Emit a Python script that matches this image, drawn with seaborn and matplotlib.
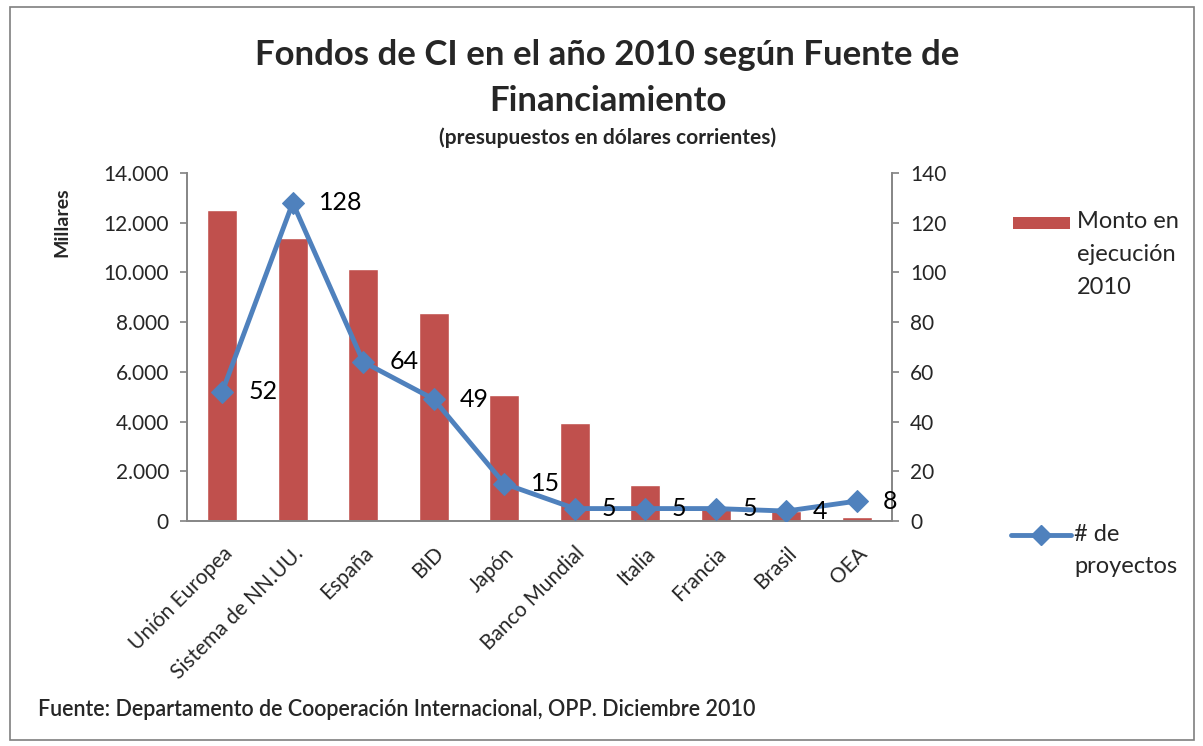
import matplotlib
matplotlib.use("Agg")
import matplotlib.pyplot as plt
import seaborn as sns
import numpy as np
from matplotlib.patches import Rectangle
from matplotlib.lines import Line2D

categorias = ["Unión Europea", "Sistema de NN.UU.", "España", "BID", "Japón",
              "Banco Mundial", "Italia", "Francia", "Brasil", "OEA"]
monto_miles = [12500, 11400, 10150, 8350, 5050, 3950, 1450, 500, 400, 180]
proyectos = [52, 128, 64, 49, 15, 5, 5, 5, 4, 8]
yticks_izq = [0, 2000, 4000, 6000, 8000, 10000, 12000, 14000]
yticks_der = [0, 20, 40, 60, 80, 100, 120, 140]

RED = "#C0504D"
BLUE = "#4F81BD"

sns.set_theme(style="white")
plt.rcParams['font.family'] = ['Lato', 'DejaVu Sans']

fig = plt.figure(figsize=(12.03, 7.46), dpi=100)
W, H = 1203, 746
ax = fig.add_axes([187 / W, 1 - 521 / H, (892 - 187) / W, (521 - 173) / H])

sns.barplot(x=categorias, y=monto_miles, color=RED, width=0.42, saturation=1,
            ax=ax, zorder=2)
ax.set_ylim(0, 14000)
ax.set_yticks(yticks_izq)
ax.set_yticklabels([f"{v:,}".replace(",", ".") for v in yticks_izq], fontsize=15)
ax.set_xlim(-0.5, 9.5)
ax.set_xticks(range(len(categorias)))
ax.set_xticklabels(categorias, rotation=45, ha="right", rotation_mode="anchor", fontsize=15)
ax.set_xlabel("")
ax.set_ylabel("")
for s in ["left", "bottom", "right"]:
    ax.spines[s].set_color("#868686")
ax.spines["top"].set_visible(False)
ax.tick_params(axis="y", length=5, color="#868686", left=True, pad=8)
ax.tick_params(axis="x", length=0, pad=16)

ax2 = ax.twinx()
sns.lineplot(x=list(range(len(categorias))), y=proyectos, color=BLUE, linewidth=3.5,
             marker="D", markersize=11, markeredgecolor=BLUE, ax=ax2, zorder=3)
ax2.set_ylim(0, 140)
ax2.set_yticks(yticks_der)
ax2.set_yticklabels([str(v) for v in yticks_der], fontsize=15)
ax2.set_xlim(-0.5, 9.5)
ax2.spines["top"].set_visible(False)
for s in ["left", "bottom", "right"]:
    ax2.spines[s].set_color("#868686")
ax2.tick_params(axis="y", length=5, color="#868686", right=True, pad=8)
ax2.set_ylabel("")

for i, v in enumerate(proyectos):
    ax2.annotate(str(v), (i, v), xytext=(19, 0), textcoords="offset points",
                 ha="left", va="center", fontsize=18, color="#000000")

fig.text(0.505, 1 - 55 / H, "Fondos de CI en el año 2010 según Fuente de", ha="center", va="center",
         fontsize=25, fontweight="bold")
fig.text(0.505, 1 - 101 / H, "Financiamiento", ha="center", va="center",
         fontsize=25, fontweight="bold")
fig.text(0.505, 1 - 138 / H, "(presupuestos en dólares corrientes)", ha="center", va="center",
         fontsize=15, fontweight="bold")
fig.text(62 / W, 1 - 222 / H, "Millares", rotation=90, ha="center", va="center",
         fontsize=14, fontweight="bold")
fig.text(38 / W, 1 - 710 / H, "Fuente: Departamento de Cooperación Internacional, OPP. Diciembre 2010",
         ha="left", va="center", fontsize=15.5, fontweight="semibold")

# Legend (drawn in figure coordinates)
fig.add_artist(Rectangle((1013 / W, 1 - 229 / H), 57 / W, 12 / H, transform=fig.transFigure,
                         facecolor=RED, edgecolor="none"))
fig.text(1077 / W, 1 - 211 / H, "Monto en\nejecución\n2010", ha="left", va="top",
         fontsize=17, linespacing=1.72)
fig.add_artist(Line2D([1011 / W, 1071 / W], [1 - 535 / H, 1 - 535 / H], transform=fig.transFigure,
                      color=BLUE, linewidth=3.5))
fig.add_artist(Line2D([1041 / W], [1 - 535 / H], transform=fig.transFigure,
                      color=BLUE, marker="D", markersize=10, linestyle="none"))
fig.text(1074 / W, 1 - 524 / H, "# de\nproyectos", ha="left", va="top",
         fontsize=17, linespacing=1.65)

fig.add_artist(Rectangle((10 / W, 6 / H), 1184 / W, 733 / H, transform=fig.transFigure,
                         fill=False, edgecolor="#7F7F7F", linewidth=1.2))

fig.savefig("out.png", dpi=100)
